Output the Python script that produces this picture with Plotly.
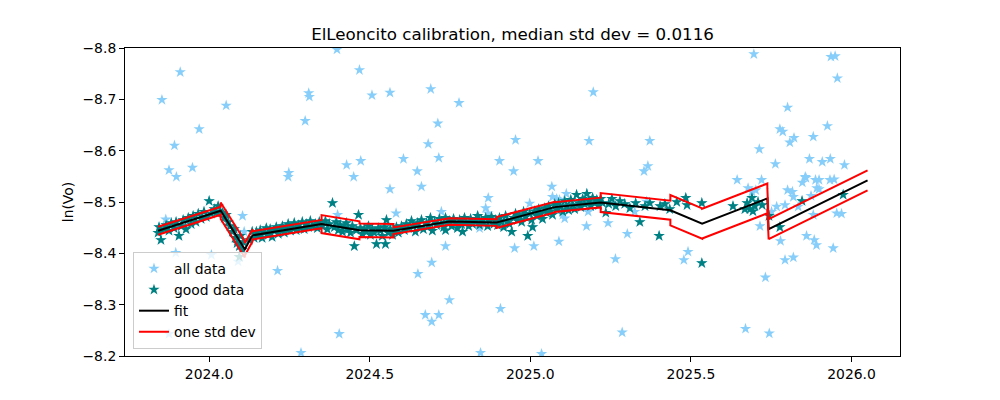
import plotly.graph_objects as go

# ---------------- data ----------------
good_pts = [
    # 2023.84 - 2024.04
    (2023.841, -8.440), (2023.844, -8.451), (2023.850, -8.426), (2023.860, -8.447), (2023.866, -8.455),
    (2023.875, -8.444), (2023.882, -8.459), (2023.891, -8.449), (2023.897, -8.461), (2023.906, -8.434),
    (2023.913, -8.453), (2023.919, -8.465), (2023.928, -8.447), (2023.935, -8.469), (2023.944, -8.457),
    (2023.950, -8.473), (2023.959, -8.461), (2023.966, -8.477), (2023.975, -8.467), (2023.984, -8.481),
    (2023.991, -8.471), (2024.000, -8.502), (2024.006, -8.477), (2024.016, -8.486), (2024.022, -8.479),
    (2024.028, -8.492), (2024.034, -8.482),
    # 2024.04 - 2024.11
    (2024.041, -8.479), (2024.047, -8.469), (2024.053, -8.475), (2024.059, -8.461), (2024.065, -8.453),
    (2024.072, -8.442), (2024.078, -8.447), (2024.081, -8.430), (2024.087, -8.420), (2024.094, -8.414),
    (2024.097, -8.434), (2024.103, -8.407), (2024.094, -8.393), (2024.106, -8.422),
    # 2024.12 - 2024.35
    (2024.125, -8.426), (2024.134, -8.442), (2024.140, -8.430), (2024.147, -8.442), (2024.153, -8.434),
    (2024.159, -8.445), (2024.165, -8.430), (2024.171, -8.440), (2024.178, -8.449), (2024.184, -8.436),
    (2024.190, -8.447), (2024.196, -8.432), (2024.203, -8.444), (2024.209, -8.451), (2024.215, -8.438),
    (2024.221, -8.447), (2024.228, -8.453), (2024.234, -8.440), (2024.240, -8.449), (2024.246, -8.457),
    (2024.253, -8.444), (2024.259, -8.451), (2024.265, -8.459), (2024.271, -8.445), (2024.278, -8.455),
    (2024.284, -8.449), (2024.290, -8.461), (2024.296, -8.447), (2024.302, -8.457), (2024.309, -8.451),
    (2024.315, -8.463), (2024.321, -8.453), (2024.331, -8.457), (2024.337, -8.449), (2024.343, -8.461),
    # 2024.35 - 2024.59
    (2024.352, -8.453), (2024.362, -8.463), (2024.368, -8.447), (2024.374, -8.457), (2024.384, -8.498),
    (2024.390, -8.451), (2024.396, -8.461), (2024.402, -8.445), (2024.408, -8.455), (2024.415, -8.442),
    (2024.421, -8.451), (2024.427, -8.459), (2024.433, -8.447), (2024.440, -8.440), (2024.446, -8.453),
    (2024.452, -8.414), (2024.458, -8.445), (2024.465, -8.475), (2024.471, -8.449), (2024.477, -8.438),
    (2024.483, -8.447), (2024.490, -8.442), (2024.496, -8.453), (2024.502, -8.436), (2024.508, -8.447),
    (2024.514, -8.440), (2024.521, -8.418), (2024.527, -8.449), (2024.533, -8.444), (2024.539, -8.434),
    (2024.546, -8.451), (2024.549, -8.418), (2024.552, -8.465), (2024.558, -8.440), (2024.564, -8.447),
    (2024.571, -8.436), (2024.577, -8.444), (2024.583, -8.451), (2024.589, -8.440),
    # 2024.60 - 2024.75
    (2024.599, -8.453), (2024.608, -8.445), (2024.614, -8.457), (2024.620, -8.449), (2024.630, -8.463),
    (2024.636, -8.453), (2024.642, -8.442), (2024.649, -8.459), (2024.655, -8.451), (2024.661, -8.465),
    (2024.667, -8.447), (2024.677, -8.459), (2024.683, -8.453), (2024.689, -8.469), (2024.695, -8.444),
    (2024.702, -8.461), (2024.708, -8.455), (2024.717, -8.467), (2024.723, -8.457), (2024.730, -8.451),
    (2024.736, -8.469), (2024.742, -8.459), (2024.748, -8.463), (2024.736, -8.445), (2024.789, -8.442),
    # 2024.75 - 2024.90
    (2024.755, -8.453), (2024.761, -8.467), (2024.767, -8.459), (2024.773, -8.449), (2024.780, -8.465),
    (2024.786, -8.457), (2024.795, -8.469), (2024.801, -8.461), (2024.808, -8.453), (2024.814, -8.467),
    (2024.820, -8.457), (2024.829, -8.463), (2024.836, -8.473), (2024.842, -8.455), (2024.848, -8.465),
    (2024.854, -8.459), (2024.861, -8.469), (2024.867, -8.453), (2024.873, -8.463), (2024.879, -8.471),
    (2024.886, -8.457), (2024.892, -8.465),
    # 2024.90 - 2025.08
    (2024.898, -8.455), (2024.904, -8.469), (2024.910, -8.461), (2024.917, -8.451), (2024.923, -8.473),
    (2024.929, -8.463), (2024.935, -8.457), (2024.942, -8.442), (2024.948, -8.469), (2024.954, -8.477),
    (2024.960, -8.465), (2024.967, -8.473), (2024.973, -8.461), (2024.979, -8.481), (2024.985, -8.471),
    (2024.992, -8.434), (2024.998, -8.477), (2025.004, -8.465), (2025.007, -8.451), (2025.013, -8.482),
    (2025.020, -8.473), (2025.026, -8.486), (2025.032, -8.477), (2025.038, -8.467), (2025.045, -8.488),
    (2025.051, -8.479), (2025.057, -8.492), (2025.063, -8.482), (2025.069, -8.475), (2025.076, -8.496),
    # 2025.08 - 2025.23
    (2025.082, -8.486), (2025.088, -8.498), (2025.094, -8.490), (2025.101, -8.481), (2025.107, -8.502),
    (2025.113, -8.492), (2025.119, -8.484), (2025.126, -8.504), (2025.132, -8.494), (2025.138, -8.486),
    (2025.144, -8.514), (2025.151, -8.498), (2025.157, -8.490), (2025.163, -8.506), (2025.169, -8.496),
    (2025.176, -8.516), (2025.182, -8.502), (2025.188, -8.492), (2025.194, -8.508), (2025.200, -8.498),
    (2025.207, -8.504), (2025.213, -8.494), (2025.219, -8.506), (2025.225, -8.498),
    # 2025.23 - 2025.44
    (2025.235, -8.479), (2025.244, -8.496), (2025.254, -8.506), (2025.266, -8.492), (2025.279, -8.502),
    (2025.294, -8.496), (2025.310, -8.488), (2025.328, -8.498), (2025.341, -8.461), (2025.357, -8.492),
    (2025.372, -8.498), (2025.401, -8.434), (2025.404, -8.492), (2025.419, -8.496), (2025.434, -8.486),
    # 2025.45 - 2026.0
    (2025.456, -8.500), (2025.484, -8.508), (2025.488, -8.494), (2025.534, -8.498), (2025.534, -8.381),
    (2025.631, -8.492), (2025.675, -8.498), (2025.690, -8.508), (2025.699, -8.492), (2025.684, -8.486),
    (2025.709, -8.500), (2025.693, -8.482), (2025.722, -8.494), (2025.668, -8.486), (2025.743, -8.473),
    (2025.777, -8.451), (2025.846, -8.502), (2025.974, -8.514),
]

outlier_pts = [
    (2024.398, -8.797), (2023.910, -8.753), (2023.853, -8.699), (2024.053, -8.688), (2024.310, -8.712),
    (2024.312, -8.705), (2024.468, -8.757), (2024.507, -8.708), (2024.563, -8.713), (2024.299, -8.658),
    (2023.969, -8.642), (2023.892, -8.610), (2023.875, -8.562), (2023.898, -8.549), (2023.948, -8.567),
    (2024.248, -8.557), (2024.246, -8.549), (2024.428, -8.572), (2024.472, -8.580), (2024.450, -8.549),
    (2024.605, -8.584), (2024.563, -8.525), (2024.648, -8.560), (2024.690, -8.720), (2024.778, -8.693),
    (2025.196, -8.714), (2024.712, -8.653), (2024.682, -8.613), (2024.954, -8.621), (2025.183, -8.619),
    (2025.372, -8.619), (2024.715, -8.586), (2024.904, -8.580), (2024.948, -8.560), (2025.024, -8.580),
    (2024.661, -8.530), (2024.869, -8.508), (2025.067, -8.530), (2025.366, -8.570), (2025.354, -8.560),
    (2025.696, -8.788), (2025.936, -8.783), (2025.949, -8.784), (2025.956, -8.741), (2025.801, -8.684),
    (2025.777, -8.642), (2025.786, -8.637), (2025.821, -8.625), (2025.808, -8.616), (2025.881, -8.627),
    (2025.925, -8.648), (2025.713, -8.603), (2025.763, -8.574), (2025.869, -8.584), (2025.909, -8.578),
    (2025.934, -8.584), (2025.978, -8.572), (2025.644, -8.543), (2025.720, -8.543), (2025.856, -8.549),
    (2025.847, -8.538), (2025.888, -8.543), (2025.933, -8.543), (2025.892, -8.527), (2025.801, -8.523),
    (2025.678, -8.527), (2025.690, -8.520), (2025.702, -8.523), (2025.819, -8.510), (2025.767, -8.491),
    (2025.793, -8.494), (2025.834, -8.491), (2025.881, -8.475), (2025.954, -8.478), (2025.751, -8.481),
    (2025.715, -8.453), (2025.779, -8.424), (2025.860, -8.434), (2025.891, -8.416), (2025.943, -8.410),
    (2025.793, -8.387), (2025.819, -8.392), (2025.732, -8.353), (2025.670, -8.253), (2025.744, -8.244),
    (2025.969, -8.477), (2025.858, -8.547), (2025.899, -8.543), (2025.946, -8.544), (2025.816, -8.520),
    (2025.874, -8.512), (2025.899, -8.525), (2023.865, -8.466), (2024.104, -8.473), (2023.896, -8.401),
    (2024.007, -8.397), (2024.400, -8.475), (2024.582, -8.478), (2024.650, -8.360), (2024.213, -8.366),
    (2024.405, -8.243), (2024.286, -8.206), (2023.875, -8.243), (2024.109, -8.442), (2024.090, -8.384),
    (2025.069, -8.510), (2025.082, -8.506), (2025.091, -8.504), (2025.112, -8.516), (2025.101, -8.475),
    (2025.107, -8.468), (2024.723, -8.481), (2024.861, -8.488), (2024.868, -8.478), (2024.998, -8.497),
    (2024.842, -8.449), (2025.180, -8.481), (2025.242, -8.459), (2025.175, -8.453), (2025.302, -8.438),
    (2025.362, -8.501), (2025.325, -8.481), (2024.736, -8.414), (2024.951, -8.410), (2025.011, -8.414),
    (2025.089, -8.423), (2024.693, -8.382), (2025.265, -8.389), (2025.491, -8.403), (2025.478, -8.387),
    (2024.748, -8.309), (2024.907, -8.292), (2024.673, -8.280), (2024.693, -8.267), (2024.715, -8.280),
    (2025.286, -8.246), (2024.845, -8.206), (2025.035, -8.204), (2025.884, -8.426),
]

# piecewise fit: knots and one std dev for each interval between knots
fit_x = [2023.841, 2024.036, 2024.111, 2024.135, 2024.350, 2024.468, 2024.574, 2024.748, 2024.895,
         2025.076, 2025.219, 2025.436, 2025.535, 2025.738, 2025.742, 2026.050]
fit_y = [-8.444, -8.483, -8.408, -8.435, -8.457, -8.445, -8.444, -8.462, -8.460,
         -8.490, -8.499, -8.484, -8.458, -8.507, -8.447, -8.542]
fit_sd = [0.0078, 0.016, 0.012, 0.0080, 0.0175, 0.013, 0.0065, 0.0065,
          0.0105, 0.0095, 0.0185, 0.0295, 0.0290, 0.020, 0.0195]

x_ticks = [2024.0, 2024.5, 2025.0, 2025.5, 2026.0]
y_ticks = [-8.8, -8.7, -8.6, -8.5, -8.4, -8.3, -8.2]

title_text = "ElLeoncito calibration, median std dev = 0.0116"

# ---------------- build ----------------
good_x = [p[0] for p in good_pts]
good_y = [p[1] for p in good_pts]
all_x = good_x + [p[0] for p in outlier_pts]
all_y = good_y + [p[1] for p in outlier_pts]

band_x, band_hi, band_lo = [], [], []
for i, s in enumerate(fit_sd):
    band_x += [fit_x[i], fit_x[i + 1]]
    band_hi += [fit_y[i] - s, fit_y[i + 1] - s]
    band_lo += [fit_y[i] + s, fit_y[i + 1] + s]

FONT = "DejaVu Sans"
fig = go.Figure()
fig.add_trace(go.Scatter(x=all_x, y=all_y, mode="markers", name="all data",
                         marker=dict(symbol="star", size=8.5, color="#87CEFA", line=dict(width=0))))
fig.add_trace(go.Scatter(x=good_x, y=good_y, mode="markers", name="good data",
                         marker=dict(symbol="star", size=8.5, color="#008080", line=dict(width=0))))
fig.add_trace(go.Scatter(x=fit_x, y=fit_y, mode="lines", name="fit",
                         line=dict(color="black", width=2)))
fig.add_trace(go.Scatter(x=band_x, y=band_hi, mode="lines", name="one std dev", legendgroup="sd",
                         line=dict(color="red", width=2)))
fig.add_trace(go.Scatter(x=band_x, y=band_lo, mode="lines", name="one std dev", legendgroup="sd",
                         showlegend=False, line=dict(color="red", width=2)))

axis_common = dict(showline=True, linecolor="black", linewidth=1, mirror=True,
                   ticks="outside", ticklen=5, tickwidth=1, tickcolor="black",
                   showgrid=False, zeroline=False, tickfont=dict(family=FONT, size=13.9, color="black"))

# the page body has an 8px default margin, so the figure is 8px smaller and the
# left/top margins are reduced by the same amount
fig.update_layout(
    width=992, height=392,
    margin=dict(l=117, r=100, t=40, b=44),
    paper_bgcolor="white", plot_bgcolor="white",
    font=dict(family=FONT, size=13.9, color="black"),
    title=dict(text=title_text, x=0.5, xref="paper", xanchor="center",
               y=1 - 26 / 392, yref="container", yanchor="middle",
               font=dict(family=FONT, size=16.7, color="black")),
    xaxis=dict(range=[2023.738, 2026.151], tickvals=x_ticks,
               ticktext=[f"{v:.1f}" for v in x_ticks], **axis_common),
    yaxis=dict(range=[-8.2, -8.8], tickvals=y_ticks,
               ticktext=[f"{v:.1f}".replace("-", "\u2212") for v in y_ticks],
               title=dict(text="ln(Vo)", standoff=5, font=dict(family=FONT, size=13.9)),
               **axis_common),
    legend=dict(x=0.0103, y=0.0227, xanchor="left", yanchor="bottom",
                bgcolor="rgba(255,255,255,0.8)", bordercolor="#cccccc", borderwidth=1,
                font=dict(family=FONT, size=13.9, color="black"), tracegroupgap=0),
    showlegend=True,
)

fig.write_html("out.html")
